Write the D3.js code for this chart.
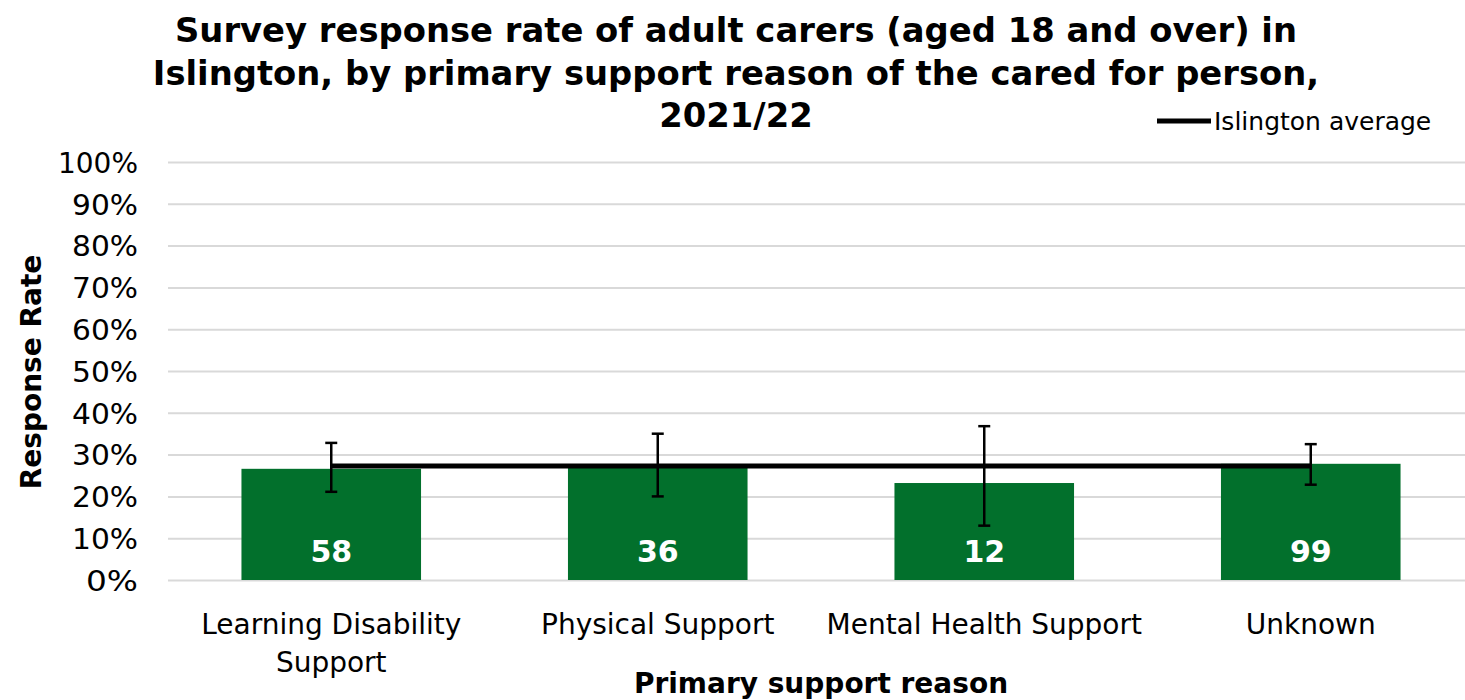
<!DOCTYPE html>
<meta charset="utf-8">
<style>
  body { margin: 0; background: #fff; }
  text { font-family: "DejaVu Sans", Verdana, sans-serif; fill: #000; }
  .grid line { stroke: #d9d9d9; stroke-width: 2; }
  .grid path { display: none; }
  .axis path, .axis line { display: none; }
</style>
<svg width="1465" height="700"></svg>
<script src="https://cdnjs.cloudflare.com/ajax/libs/d3/7.8.5/d3.min.js"></script>
<script>

// chart data
var categories = [["Learning Disability", "Support"], ["Physical Support"], ["Mental Health Support"], ["Unknown"]];
var rates = [0.266, 0.27, 0.232, 0.278];
var lowerCI = [0.211, 0.20, 0.130, 0.228];
var upperCI = [0.328, 0.35, 0.368, 0.325];
var counts = [58, 36, 12, 99];
var average = 0.273;
var yTicks = [0, 0.1, 0.2, 0.3, 0.4, 0.5, 0.6, 0.7, 0.8, 0.9, 1];
var titleLines = ["Survey response rate of adult carers (aged 18 and over) in",
                  "Islington, by primary support reason of the cared for person,",
                  "2021/22"];

var svg = d3.select("svg"),
    plotLeft = 168, plotRight = 1474, plotTop = 162, plotBottom = 580;

var keys = d3.range(categories.length);
var x = d3.scaleBand().domain(keys).range([plotLeft, plotRight]).paddingInner(0.45).paddingOuter(0.225);
var y = d3.scaleLinear().domain([0, 1]).range([plotBottom, plotTop]);
var cx = function(i) { return x(i) + x.bandwidth() / 2; };

// gridlines
svg.append("g")
    .attr("class", "grid")
    .attr("transform", "translate(" + plotLeft + ",0)")
    .call(d3.axisLeft(y).tickValues(yTicks).tickSize(-(plotRight - plotLeft)).tickFormat(""));

// y axis labels
var yAxis = svg.append("g")
    .attr("class", "axis")
    .attr("transform", "translate(" + (plotLeft - 30) + ",0)")
    .call(d3.axisLeft(y).tickValues(yTicks).tickSize(0).tickPadding(0).tickFormat(d3.format(".0%")));
yAxis.selectAll("text")
    .attr("dy", "0.37em")
    .style("font-size", "28px")
    .style("font-family", "DejaVu Sans")
    .attr("textLength", function(d) { return d === 1 ? 80 : d === 0 ? 52 : 66; })
    .attr("lengthAdjust", "spacingAndGlyphs");

// bars
svg.append("g").selectAll("rect")
    .data(keys)
    .enter().append("rect")
    .attr("x", function(i) { return x(i); })
    .attr("y", function(i) { return y(rates[i]); })
    .attr("width", x.bandwidth())
    .attr("height", function(i) { return y(0) - y(rates[i]); })
    .attr("fill", "#02702c");

// count labels inside bars
svg.append("g").selectAll("text")
    .data(keys)
    .enter().append("text")
    .attr("x", cx)
    .attr("y", y(0.07))
    .attr("dy", "0.36em")
    .attr("text-anchor", "middle")
    .style("font-size", "30px")
    .style("font-weight", "bold")
    .style("fill", "#fff")
    .text(function(i) { return counts[i]; });

// average line
svg.append("line")
    .attr("x1", cx(0)).attr("x2", cx(keys.length - 1))
    .attr("y1", y(average)).attr("y2", y(average))
    .attr("stroke", "#000").attr("stroke-width", 5);

// error bars
var err = svg.append("g").attr("stroke", "#000").attr("stroke-width", 2.5);
keys.forEach(function(i) {
  err.append("line").attr("x1", cx(i)).attr("x2", cx(i)).attr("y1", y(lowerCI[i])).attr("y2", y(upperCI[i]));
  err.append("line").attr("x1", cx(i) - 6).attr("x2", cx(i) + 6).attr("y1", y(lowerCI[i])).attr("y2", y(lowerCI[i]));
  err.append("line").attr("x1", cx(i) - 6).attr("x2", cx(i) + 6).attr("y1", y(upperCI[i])).attr("y2", y(upperCI[i]));
});

// category labels
var catG = svg.append("g").selectAll("text")
    .data(keys)
    .enter().append("text")
    .attr("text-anchor", "middle")
    .style("font-size", "28px")
    .attr("x", cx)
    .attr("y", 634);
catG.selectAll("tspan")
    .data(function(i) { return categories[i].map(function(t) { return { t: t, i: i }; }); })
    .enter().append("tspan")
    .attr("x", function(d) { return cx(d.i); })
    .attr("dy", function(d, j) { return j ? 38 : 0; })
    .text(function(d) { return d.t; });

// axis titles
svg.append("text")
    .attr("x", (plotLeft + plotRight) / 2).attr("y", 693)
    .attr("text-anchor", "middle")
    .style("font-size", "28px").style("font-weight", "bold")
    .text("Primary support reason");

svg.append("text")
    .attr("transform", "translate(41," + 372 + ") rotate(-90)")
    .attr("text-anchor", "middle")
    .style("font-size", "28px").style("font-weight", "bold")
    .text("Response Rate");

// title
svg.append("g").selectAll("text")
    .data(titleLines)
    .enter().append("text")
    .attr("x", 736)
    .attr("y", function(d, i) { return 42 + i * 42.5; })
    .attr("text-anchor", "middle")
    .style("font-size", "33.8px").style("font-weight", "bold")
    .text(function(d) { return d; });

// legend
svg.append("line")
    .attr("x1", 1157).attr("x2", 1211).attr("y1", 121).attr("y2", 121)
    .attr("stroke", "#000").attr("stroke-width", 5);
svg.append("text")
    .attr("x", 1214).attr("y", 130)
    .style("font-size", "25px")
    .text("Islington average");

</script>
